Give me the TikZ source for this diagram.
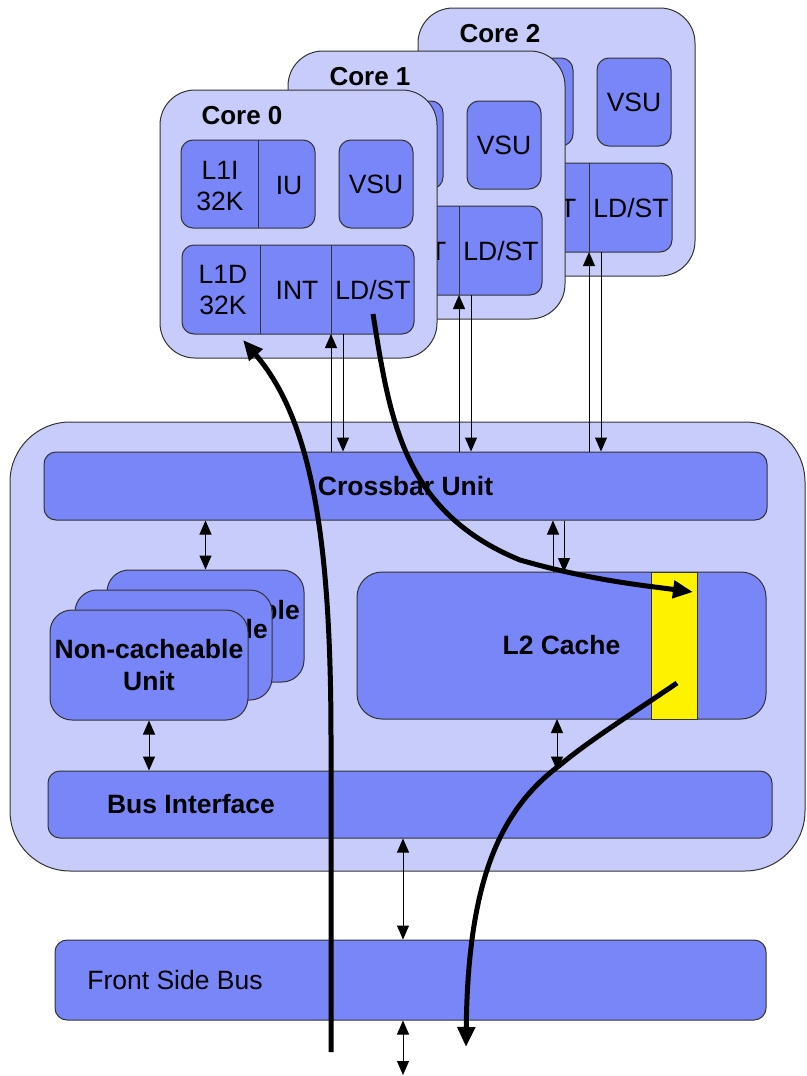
\documentclass[tikz,border=0pt]{standalone}
\usepackage{fontspec}
\setmainfont{Liberation Sans}
\usetikzlibrary{arrows.meta}
\definecolor{light}{HTML}{C8CCFA}
\definecolor{mid}{HTML}{7986F8}
\definecolor{edge}{HTML}{333333}
\tikzset{
 outer/.style={draw=edge, fill=light, line width=1pt, rounded corners=35pt, inner sep=0pt},
 unit/.style={draw=edge, fill=mid, line width=1pt, rounded corners=12pt, inner sep=0pt},
 lbl/.style={font=\fontsize{26.5}{31}\selectfont, align=center, inner sep=0pt},
 blbl/.style={font=\fontsize{26.5}{32}\selectfont\bfseries, align=center, inner sep=0pt},
 tlbl/.style={font=\fontsize{26}{30}\selectfont\bfseries, align=center, inner sep=0pt},
 divl/.style={draw=edge, line width=1pt},
 link/.style={line width=1pt, -{Triangle[length=14pt,width=12pt]}},
 dlink/.style={line width=1pt, {Triangle[length=14pt,width=12pt]}-{Triangle[length=14pt,width=12pt]}},
 flow/.style={line width=5pt, -{Triangle[length=20pt,width=17pt]}},
}
\begin{document}
\begin{tikzpicture}[x=1pt,y=-1pt]
\useasboundingbox (0,0) rectangle (806,1076);

% ---------- chip ----------
\node[outer, rounded corners=60pt, minimum width=795pt, minimum height=449pt] (chip) at (407.5,646.5) {};
\node[unit, minimum width=723pt, minimum height=68pt, blbl] (xbar) at (405.5,486) {Crossbar Unit};
\node[unit, rounded corners=22pt, minimum width=197pt, minimum height=112pt, blbl] (ncuC) at (205.5,626) {Non-cacheable\\Unit};
\node[unit, rounded corners=22pt, minimum width=197pt, minimum height=110pt, blbl] (ncuB) at (173.5,645) {Non-cacheable\\Unit};
\node[unit, rounded corners=22pt, minimum width=198pt, minimum height=110pt, blbl] (ncuA) at (149,665) {Non-cacheable\\Unit};
\node[unit, rounded corners=25pt, minimum width=409pt, minimum height=147pt, blbl] (l2) at (561.5,645.5) {L2 Cache};
\node[draw=edge, fill=yellow, line width=1pt, minimum width=46pt, minimum height=147pt, inner sep=0pt] (strip) at (674,645.5) {};
\node[unit, minimum width=724pt, minimum height=67pt] (bi) at (410,804.5) {};
\node[blbl] (bitxt) at (191,804) {Bus Interface};
\node[unit, minimum width=711pt, minimum height=80pt] (fsb) at (410.5,980) {};
\node[lbl] (fsbtxt) at (175,980) {Front Side Bus};

% ---------- cores ----------
\foreach \i/\dx/\dy in {2/258/-82, 1/128/-39, 0/0/0}{
 \begin{scope}[shift={(\dx,\dy)}]
  \node[outer, minimum width=277pt, minimum height=268pt] (core\i) at (298.5,224) {};
  \node[tlbl] (title\i) at (242,116) {Core \i};
  \node[unit, minimum width=134pt, minimum height=88pt] (ibox\i) at (248,184) {};
  \draw[divl] (258,140) -- (258,228);
  \node[unit, minimum width=74pt, minimum height=88pt, lbl] (vsu\i) at (376,184) {VSU};
  \node[unit, minimum width=232pt, minimum height=89pt] (dbox\i) at (298,289.5) {};
  \draw[divl] (260,245) -- (260,334);
  \draw[divl] (331,245) -- (331,334);
  \node[lbl] (l1i\i) at (220,186) {L1I\\32K};
  \node[lbl] (iu\i) at (289,186) {IU};
  \node[lbl] (l1d\i) at (223,290) {L1D\\32K};
  \node[lbl] (int\i) at (297,290) {INT};
  \node[lbl] (ldst\i) at (373,290) {LD/ST};
  \coordinate (up\i) at (331,334);
  \coordinate (dn\i) at (343,334);
 \end{scope}
}

% ---------- thin connectors ----------
\foreach \i in {0,1,2}{
  \draw[link] (xbar.north -| up\i) -- (up\i);
  \draw[link] (dn\i) -- (xbar.north -| dn\i);
}
\draw[dlink] (xbar.south -| ncuC.north) -- (ncuC.north);
\draw[dlink] (ncuA.south) -- (bi.north -| ncuA.south);
\coordinate (l2u) at (553,572);
\coordinate (l2d) at (564,572);
\draw[link] (l2u) -- (xbar.south -| l2u);
\draw[link] (xbar.south -| l2d) -- (l2d);
\coordinate (l2b) at (557,719);
\draw[dlink] (l2b) -- (bi.north -| l2b);
\coordinate (bfx) at (403,0);
\draw[dlink] (bi.south -| bfx) -- (fsb.north -| bfx);
\coordinate (bot) at (403,1075);
\draw[dlink] (fsb.south -| bfx) -- (bot);

% ---------- thick flows ----------
\coordinate (f1s) at (331,1052);
\coordinate (f1m) at (331,740);
\coordinate (f1e) at (243,340);
\draw[flow] (f1s) -- (f1m) .. controls (331,540) and (312,420) .. (f1e);
\coordinate (f2s) at (373,314);
\coordinate (f2m) at (520,560);
\coordinate (f2e) at (693,592);
\draw[flow] (f2s) .. controls (390,420) and (403,512) .. (f2m) .. controls (590,580) and (640,585) .. (f2e);
\coordinate (f3s) at (677,683);
\coordinate (f3m) at (560,765);
\coordinate (f3e) at (466,1047);
\draw[flow] (f3s) .. controls (630,715) and (590,740) .. (f3m) .. controls (500,810) and (468,880) .. (f3e);
\end{tikzpicture}
\end{document}
